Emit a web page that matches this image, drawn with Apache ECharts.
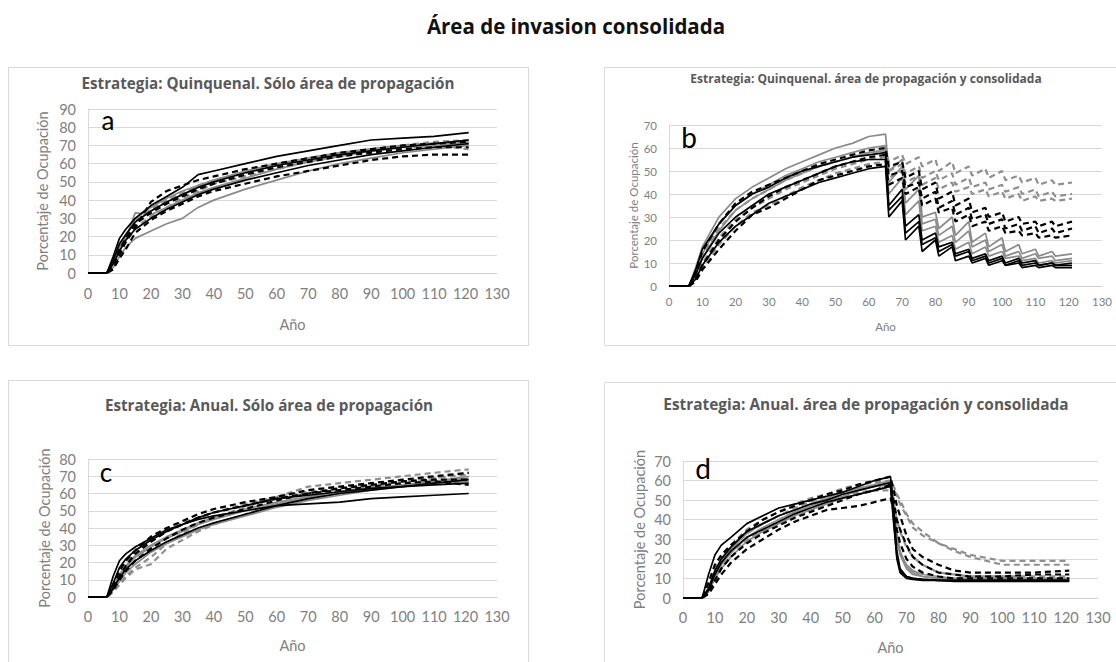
<!DOCTYPE html>
<html>
<head>
<meta charset="utf-8">
<script src="https://cdn.jsdelivr.net/npm/echarts@6/dist/echarts.min.js"></script>
<style>
html,body{margin:0;padding:0;background:#fff;}
#c{width:1116px;height:662px;}
</style>
</head>
<body>
<div id="c"></div>
<script>
// ---------------- DATA ----------------
const mainTitle = 'Área de invasion consolidada';
const panelTitles = [
  'Estrategia: Quinquenal. Sólo área de propagación',
  'Estrategia: Quinquenal. área de propagación y consolidada',
  'Estrategia: Anual. Sólo área de propagación',
  'Estrategia: Anual. área de propagación y consolidada'
];
const panelLetters = ['a', 'b', 'c', 'd'];
const xName = 'Año';
const yName = 'Porcentaje de Ocupación';
const yMax = [90, 70, 80, 70];

// line kinds, in series order: bs = black solid, gs = gray solid, bd = black dashed, gd = gray dashed
const seriesKinds = ['bs','bs','bs','gs','gs','gs','bd','bd','bd','gd','gd','gd'];

// Panel a: years and series
const yearsA = [0,6,8,10,12,15,20,25,30,35,40,50,60,70,80,90,100,110,121];
const a1  = [0,0,9,19,24,30,37,42,47,54,56,60,64,67,70,73,74,75,77];
const a2  = [0,0,7,16,21,28,34,39,43,47,50,55,59,62,65,67,69,71,73];
const a3  = [0,0,5,12,18,24,30,35,39,43,46,51,55,59,62,65,67,69,71];
const a4  = [0,0,3,9,14,19,23,27,30,36,40,46,51,56,60,63,66,68,70];
const a5  = [0,0,6,14,20,30,36,41,45,48,51,56,60,63,66,68,70,71,73];
const a6  = [0,0,5,12,19,33,32,36,40,44,47,52,57,61,64,67,69,70,72];
const a7  = [0,0,4,10,17,25,39,45,48,51,53,57,60,63,66,68,70,71,72];
const a8  = [0,0,2,8,13,22,29,34,38,42,45,49,53,56,59,62,64,65,65];
const a9  = [0,0,5,13,19,27,33,38,42,46,49,54,58,61,64,66,68,69,69];
const a10 = [0,0,5,13,20,28,35,40,44,48,51,55,59,63,66,68,70,72,73];
const a11 = [0,0,4,11,17,25,31,36,41,45,49,53,57,61,64,67,69,70,71];
const a12 = [0,0,6,14,21,29,34,39,43,47,50,55,59,62,65,67,69,70,68];

// Panel b
const yearsB = [0,6,8,10,15,20,25,30,35,40,45,50,55,60,65,66,70,71,75,76,80,81,85,86,90,91,95,96,100,101,105,106,110,111,115,116,121];
const b1  = [0,0,7,16,27,35,40,43,47,50,52,54,56,57,58, 35,42,26,31,20,23,17,19,14,16,12,14,11,13,10,12,10,11,9,10,9,10];
const b2  = [0,0,5,12,23,30,35,40,43,46,49,52,54,55,55, 33,39,23,28,18,21,15,18,13,15,11,13,10,12,9,11,9,10,9,10,9,9];
const b3  = [0,0,3,9,19,26,31,36,39,42,45,47,49,51,52, 30,37,20,26,15,20,13,17,11,13,10,12,9,11,9,10,8,9,8,9,8,8];
const b4  = [0,0,8,17,30,38,43,47,51,54,57,60,62,65,66, 50,55,42,48,30,32,25,30,22,28,19,23,17,21,15,18,14,16,13,15,13,14];
const b5  = [0,0,6,14,27,35,40,44,48,51,54,56,58,60,61, 45,52,36,42,27,29,22,26,19,24,17,20,15,18,13,15,12,14,12,13,11,12];
const b6  = [0,0,5,12,24,33,38,42,46,49,52,54,56,58,59, 40,47,31,37,24,26,19,22,16,19,14,17,13,15,12,13,11,12,10,11,10,11];
const b7  = [0,0,6,15,27,36,41,44,47,50,53,55,57,59,60, 52,54,47,50,42,45,38,41,35,38,32,34,30,32,28,30,27,28,26,28,26,28];
const b8  = [0,0,3,9,20,28,34,39,43,46,49,52,54,56,57, 48,50,43,45,38,41,34,37,31,34,29,31,27,29,25,27,24,26,23,25,23,25];
const b9  = [0,0,2,7,16,24,31,34,38,42,46,48,50,52,53, 44,47,40,43,35,38,32,34,28,31,26,28,24,26,23,24,22,23,21,22,21,22];
const b10 = [0,0,5,13,25,33,38,42,46,49,52,54,56,58,59, 54,57,53,56,52,55,50,54,49,52,48,51,47,50,46,48,45,47,44,46,44,45];
const b11 = [0,0,3,10,21,29,34,38,42,45,48,51,53,55,56, 50,53,49,52,47,50,46,49,44,47,43,45,42,44,41,43,40,42,39,41,39,40];
const b12 = [0,0,2,8,18,26,32,35,39,43,46,49,51,53,54, 47,50,45,48,44,47,42,45,41,43,40,42,39,41,38,40,37,39,37,38,37,38];

// Panel c
const yearsC = [0,6,8,10,12,15,20,25,30,35,40,50,60,70,80,90,100,110,121];
const c1  = [0,0,12,21,25,29,34,39,42,45,47,50,53,54,55,57,58,59,60];
const c2  = [0,0,8,17,22,27,33,38,42,46,49,53,57,59,61,63,64,65,66];
const c3  = [0,0,5,11,16,21,27,32,36,40,43,48,53,57,60,62,64,66,68];
const c4  = [0,0,4,9,14,19,26,31,35,39,42,47,52,56,59,62,64,66,67];
const c5  = [0,0,6,13,18,24,30,35,39,43,46,51,55,58,61,63,65,67,69];
const c6  = [0,0,5,12,17,23,29,34,38,42,45,50,54,57,60,63,65,67,70];
const c7  = [0,0,7,15,21,27,35,40,44,48,51,55,58,62,64,66,68,70,72];
const c8  = [0,0,5,12,18,25,32,38,42,46,49,53,57,60,63,65,67,68,68];
const c9  = [0,0,4,10,15,21,28,34,39,43,46,51,56,60,62,64,66,67,65];
const c10 = [0,0,3,8,12,17,23,31,37,42,46,52,58,64,66,68,70,72,74];
const c11 = [0,0,3,7,11,16,19,28,33,38,42,48,54,58,61,64,67,69,72];
const c12 = [0,0,6,14,20,26,33,38,43,46,49,54,58,61,63,65,67,69,71];

// Panel d
const yearsD = [0,6,8,10,12,15,20,25,30,35,40,45,50,55,60,65,66,67,68,70,72,75,80,85,90,100,110,121];
const d1  = [0,0,12,22,27,31,38,42,46,48,50,52,54,57,60,62, 45,24,15,11,10,9.5,9,9,9,9,9,9];
const d2  = [0,0,5,14,20,26,34,38,42,45,48,50,53,55,57,59, 40,20,13,10,9.5,9,9,8.5,8.5,8.5,8.5,8.5];
const d3  = [0,0,4,12,18,24,31,35,39,43,46,49,51,53,55,57, 38,21,14,11,10,9.5,9,9,9,9,9,9];
const d4  = [0,0,5,13,19,25,33,38,42,45,48,51,54,56,58,60, 48,33,24,16,13,11,10,10,10,10,10,10];
const d5  = [0,0,3,10,15,21,29,34,38,42,45,48,51,53,55,57, 45,30,22,15,12,11,10,9.5,9.5,9.5,9.5,9.5];
const d6  = [0,0,4,11,17,23,31,36,40,44,47,50,52,55,57,59, 46,31,23,17,14,12,11,10,10,10,10,10];
const d7  = [0,0,8,17,22,27,34,40,44,47,50,53,55,58,60,62, 55,47,42,32,25,21,17,14,13,13,13,14];
const d8  = [0,0,3,9,15,21,28,33,37,41,44,47,50,53,55,58, 50,40,35,27,21,17,13,12,11,11,12,12];
const d9  = [0,0,2,7,12,18,25,30,35,39,42,45,46,47,49,51, 45,35,28,20,16,13,11,10,10,10,10,10];
const d10 = [0,0,6,15,21,27,35,40,44,48,51,53,56,58,59,60, 57,53,50,43,38,34,28,25,22,19,19,19];
const d11 = [0,0,5,13,19,25,33,38,42,46,49,52,54,56,57,58, 56,52,48,42,36,32,28,24,21,17,17,17];
const d12 = [0,0,4,11,17,23,30,35,40,44,47,50,52,54,55,55, 48,40,34,26,21,17,13,12,11,11,11,11];

// ---------------- CHART ----------------
const panels = [
  {years: yearsA, lines: [a1,a2,a3,a4,a5,a6,a7,a8,a9,a10,a11,a12]},
  {years: yearsB, lines: [b1,b2,b3,b4,b5,b6,b7,b8,b9,b10,b11,b12]},
  {years: yearsC, lines: [c1,c2,c3,c4,c5,c6,c7,c8,c9,c10,c11,c12]},
  {years: yearsD, lines: [d1,d2,d3,d4,d5,d6,d7,d8,d9,d10,d11,d12]}
];

const grids = [
  {left: 88,  top: 109, width: 409, height: 164},
  {left: 669, top: 125, width: 433, height: 161},
  {left: 88,  top: 459, width: 409, height: 138},
  {left: 683, top: 461, width: 415, height: 137}
];
const FONT = 'Lato, "Open Sans", sans-serif';
const TFONT = '"Open Sans", sans-serif';
const axisFs = [14.5, 11.5, 14.5, 14.5];
const xLabelMargin = [13, 9, 12, 12];
const xNameGap = [44, 34, 41, 42];
const yNameGap = [38, 26, 36, 36];

const styles = {
  bs: {color: '#000000', width: 1.7, type: 'solid'},
  gs: {color: '#8a8a8a', width: 1.7, type: 'solid'},
  bd: {color: '#000000', width: 2.2, type: [6, 4]},
  gd: {color: '#8f8f8f', width: 2.2, type: [6, 4]}
};

const xAxes = [], yAxes = [], series = [];
panels.forEach((p, i) => {
  xAxes.push({
    gridIndex: i, type: 'value', min: 0, max: 130, interval: 10,
    name: xName, nameLocation: 'middle', nameGap: xNameGap[i],
    nameTextStyle: {color: '#808080', fontSize: axisFs[i], fontFamily: FONT},
    axisLine: {show: true, lineStyle: {color: '#d0d0d0', width: 1}},
    axisTick: {show: false},
    splitLine: {show: false},
    axisLabel: {color: '#808080', fontSize: axisFs[i], fontFamily: FONT, margin: xLabelMargin[i]}
  });
  yAxes.push({
    gridIndex: i, type: 'value', min: 0, max: yMax[i], interval: 10,
    name: yName, nameLocation: 'middle', nameGap: yNameGap[i], nameRotate: 90,
    nameTextStyle: {color: '#808080', fontSize: axisFs[i], fontFamily: FONT},
    axisLine: {show: true, lineStyle: {color: '#d9d9d9', width: 1}},
    axisTick: {show: false},
    splitLine: {show: true, lineStyle: {color: '#d9d9d9', width: 1}},
    axisLabel: {color: '#808080', fontSize: axisFs[i], fontFamily: FONT, margin: 12}
  });
  p.lines.forEach((vals, k) => {
    const st = styles[seriesKinds[k]];
    series.push({
      type: 'line', xAxisIndex: i, yAxisIndex: i,
      data: p.years.map((yr, j) => [yr, vals[j]]),
      showSymbol: false, symbol: 'none', silent: true, animation: false,
      z: (seriesKinds[k] === 'bs' || seriesKinds[k] === 'bd') ? 3 : 2,
      lineStyle: {color: st.color, width: st.width, type: st.type}
    });
  });
});

const frames = [
  {x: 8,   y: 67,  w: 520, h: 278},
  {x: 604, y: 67,  w: 530, h: 278},
  {x: 8,   y: 380, w: 520, h: 300},
  {x: 604, y: 382, w: 530, h: 300}
];
const titlePos = [[268, 83, 15.2], [866, 78, 12], [269, 405, 15.2], [866, 404, 15.4]];
const letterPos = [[108, 120, 26], [689, 137, 28], [106, 472, 26], [703, 468, 28]];

const graphics = [];
frames.forEach(f => graphics.push({
  type: 'rect', z: 0, silent: true,
  shape: {x: f.x + 0.5, y: f.y + 0.5, width: f.w, height: f.h},
  style: {fill: 'none', stroke: '#d9d9d9', lineWidth: 1}
}));
graphics.push({
  type: 'text', x: 576, y: 26, z: 10,
  style: {text: mainTitle, font: 'bold 20.5px ' + TFONT, fill: '#111111', textAlign: 'center', textVerticalAlign: 'middle'}
});
panelTitles.forEach((t, i) => graphics.push({
  type: 'text', x: titlePos[i][0], y: titlePos[i][1], z: 10,
  style: {text: t, font: 'bold ' + titlePos[i][2] + 'px ' + TFONT, fill: '#595959', textAlign: 'center', textVerticalAlign: 'middle'}
}));
panelLetters.forEach((t, i) => graphics.push({
  type: 'text', x: letterPos[i][0], y: letterPos[i][1], z: 10,
  style: {text: t, font: letterPos[i][2] + 'px ' + FONT, fill: '#000000', textAlign: 'center', textVerticalAlign: 'middle'}
}));

const chart = echarts.init(document.getElementById('c'), null, {renderer: 'svg', width: 1116, height: 662});
chart.setOption({
  animation: false,
  backgroundColor: '#ffffff',
  grid: grids,
  xAxis: xAxes,
  yAxis: yAxes,
  series: series,
  graphic: graphics
});
</script>
</body>
</html>
